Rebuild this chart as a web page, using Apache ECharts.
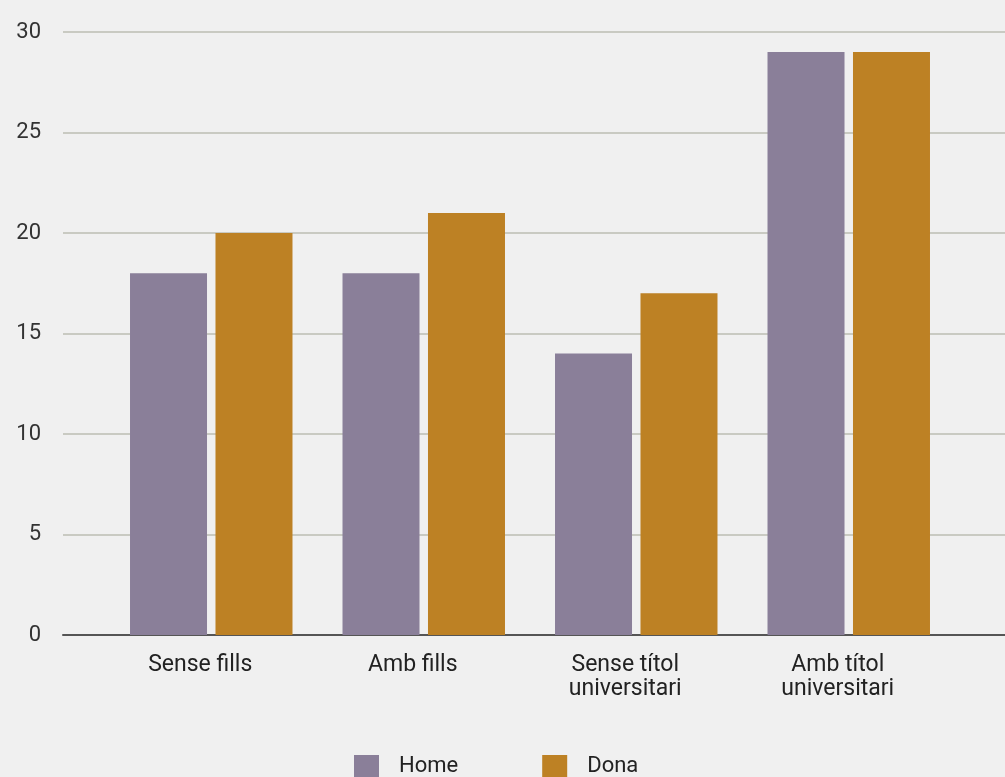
<!DOCTYPE html>
<html>
<head>
<meta charset="utf-8">
<style>
  html, body { margin: 0; padding: 0; background: #f0f0f0; }
  #chart { width: 1005px; height: 777px; }
</style>
<script src="https://cdn.jsdelivr.net/npm/echarts@6/dist/echarts.min.js"></script>
</head>
<body>
<div id="chart"></div>
<script>
const categories = ['Sense fills', 'Amb fills', 'Sense títol\nuniversitari', 'Amb títol\nuniversitari'];
const homeValues = [18, 18, 14, 29];
const donaValues = [20, 21, 17, 29];
const seriesNames = ['Home', 'Dona'];
const yTicks = { min: 0, max: 30, interval: 5 };

const font = 'Roboto, "Noto Sans", sans-serif';
const chart = echarts.init(document.getElementById('chart'));

chart.setOption({
  backgroundColor: '#f0f0f0',
  animation: false,
  textStyle: { fontFamily: font },
  grid: [
    // wide grid: gridlines, baseline and y labels
    { left: 63, right: 0, top: 32, bottom: 142 },
    // bar grid
    { left: 105, right: 50, top: 32, bottom: 142 }
  ],
  legend: {
    data: seriesNames,
    left: 349,
    top: 750,
    icon: 'rect',
    itemWidth: 25,
    itemHeight: 22,
    itemGap: 84,
    textStyle: { fontSize: 22, lineHeight: 22, color: '#222', fontFamily: font, padding: [0, 0, 0, 15] }
  },
  xAxis: [
    {
      gridIndex: 0, type: 'value', min: 0, max: 1,
      axisLine: { show: true, lineStyle: { color: '#555', width: 2 } },
      axisTick: { show: false }, axisLabel: { show: false }, splitLine: { show: false }
    },
    {
      gridIndex: 1, type: 'category', data: categories,
      axisLine: { show: false }, axisTick: { show: false },
      axisLabel: {
        fontSize: 23, color: '#222', lineHeight: 24, margin: 18, fontFamily: font,
        padding: [0, 22, 0, 0]
      }
    }
  ],
  yAxis: [
    {
      gridIndex: 0, type: 'value', min: yTicks.min, max: yTicks.max, interval: yTicks.interval,
      axisLine: { show: false }, axisTick: { show: false },
      axisLabel: { fontSize: 22, color: '#333', margin: 22, fontFamily: font },
      splitLine: { show: true, lineStyle: { color: '#c9cac2', width: 2 } }
    },
    {
      gridIndex: 1, type: 'value', min: yTicks.min, max: yTicks.max, interval: yTicks.interval,
      axisLine: { show: false }, axisTick: { show: false }, axisLabel: { show: false },
      splitLine: { show: false }
    }
  ],
  series: [
    {
      name: seriesNames[0], type: 'bar', xAxisIndex: 1, yAxisIndex: 1,
      data: homeValues, barWidth: 77, barGap: '11%',
      itemStyle: { color: '#8a7f99' }, z: 1
    },
    {
      name: seriesNames[1], type: 'bar', xAxisIndex: 1, yAxisIndex: 1,
      data: donaValues, barWidth: 77, barGap: '11%',
      itemStyle: { color: '#bd8124' }, z: 1
    }
  ]
});
</script>
</body>
</html>
